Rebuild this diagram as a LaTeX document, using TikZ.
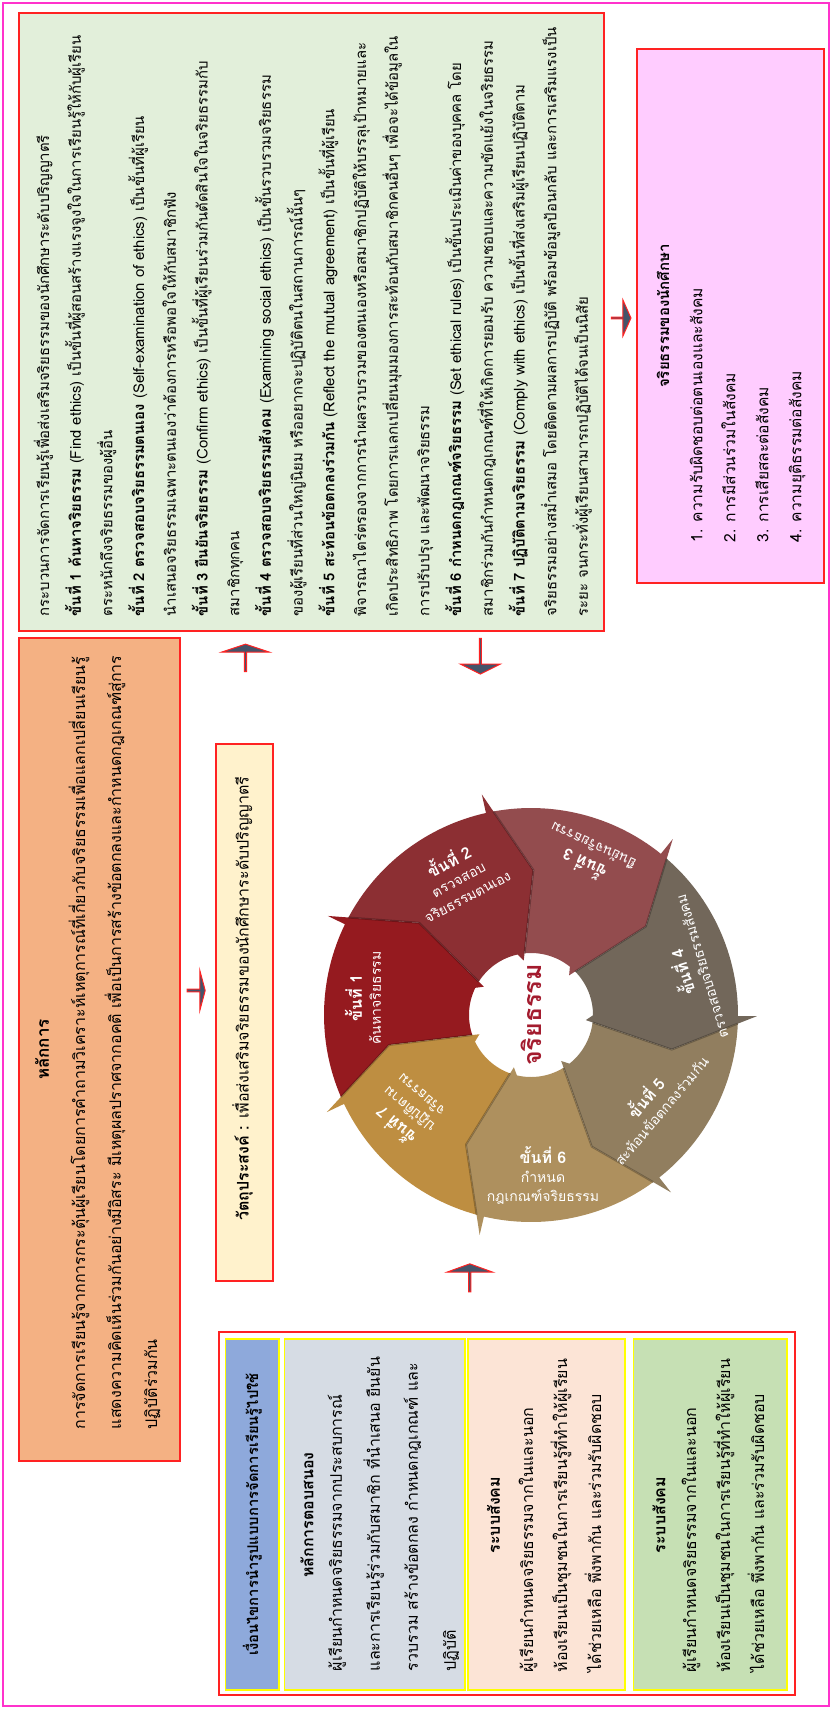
\documentclass[tikz,border=0pt]{standalone}
\usepackage{fontspec}
\setmainfont[Script=Thai]{Loma}
\usetikzlibrary{positioning,calc,shapes.arrows}

\definecolor{framepink}{HTML}{FF33CC}
\definecolor{boxred}{HTML}{FF2222}
\definecolor{colyellow}{HTML}{FFFF00}
\definecolor{greenbg}{HTML}{E2EFDA}
\definecolor{orangebg}{HTML}{F4B183}
\definecolor{pinkbg}{HTML}{FFCCFF}
\definecolor{objbg}{HTML}{FFF2CC}
\definecolor{bluebg}{HTML}{8EA9DB}
\definecolor{graybg}{HTML}{D6DCE4}
\definecolor{peachbg}{HTML}{FCE4D6}
\definecolor{leafbg}{HTML}{C6E0B4}
\definecolor{arrowslate}{HTML}{44546A}
\definecolor{segA}{HTML}{951A1F}
\definecolor{segB}{HTML}{8C2F33}
\definecolor{segC}{HTML}{934C4E}
\definecolor{segD}{HTML}{72675A}
\definecolor{segE}{HTML}{917E5F}
\definecolor{segF}{HTML}{AE905E}
\definecolor{segG}{HTML}{BE8E41}
\definecolor{corered}{HTML}{A31B2E}

\tikzset{every picture/.style={line width=0.75pt}}
\tikzset{
  redbox/.style={draw=boxred, line width=1pt, inner sep=0pt, outer sep=0pt},
  colbox/.style={draw=colyellow, line width=0.75pt, inner sep=0pt, outer sep=0pt},
  vtext/.style={rotate=90, inner sep=0pt, align=left},
  barrow/.style={single arrow, draw=boxred, fill=arrowslate, line width=0.5pt,
    inner sep=0pt, outer sep=0pt},
  steplabel/.style={text=white, align=center, inner sep=0pt,
    font=\fontsize{7}{9.5}\selectfont},
}
\newcommand{\stephead}[1]{{\bfseries\fontsize{8}{10}\selectfont #1}}

\begin{document}
\begin{tikzpicture}[x=0.5pt,y=-0.5pt]
  \useasboundingbox (0,0) rectangle (832,1709);
  %outer frame
  \draw[framepink, line width=1pt] (3,3) rectangle (829,1706);

  %Shape: Rectangle [green]
  \node[redbox, fill=greenbg, minimum width=292.7pt, minimum height=309pt] (green) at (311.3,322) {};
  %Shape: Rectangle [orange]
  \node[redbox, fill=orangebg, minimum width=80.7pt, minimum height=411.5pt] (orange) at (99.3,1049.5) {};
  %Shape: Rectangle [pink]
  \node[redbox, fill=pinkbg, minimum width=93.5pt, minimum height=267pt] (pink) at (730.5,316) {};
  %Shape: Rectangle [objective]
  \node[redbox, fill=objbg, minimum width=28.5pt, minimum height=268.5pt] (obj) at (244.5,1012.5) {};
  %Shape: Rectangle [bottom frame]
  \node[redbox, minimum width=287.8pt, minimum height=181.5pt] (bottom) at (506.8,1513.5) {};
  \node[colbox, fill=bluebg, minimum width=26.75pt, minimum height=175.5pt] (colA) at (252.25,1514.5) {};
  \node[colbox, fill=graybg, minimum width=90.2pt, minimum height=175.5pt] (colB) at (374.8,1514.5) {};
  \node[colbox, fill=peachbg, minimum width=78.5pt, minimum height=175.5pt] (colC) at (546.5,1514.5) {};
  \node[colbox, fill=leafbg, minimum width=76.75pt, minimum height=175.5pt] (colD) at (710.25,1514.5) {};

  % Text Node
  \node[vtext, anchor=north west, font=\fontsize{7.45}{15.85}\selectfont] (greentxt) at (33,617)
    {กระบวนการจัดการเรียนรู้เพื่อส่งเสริมจริยธรรมของนักศึกษาระดับปริญญาตรี\\
     \textbf{ขั้นที่ 1 ค้นหาจริยธรรม} (Find ethics) เป็นขั้นที่ผู้สอนสร้างแรงจูงใจในการเรียนรู้ให้กับผู้เรียน\\
     ตระหนักถึงจริยธรรมของผู้อื่น\\
     \textbf{ขั้นที่ 2 ตรวจสอบจริยธรรมตนเอง} (Self-examination of ethics) เป็นขั้นที่ผู้เรียน\\
     นำเสนอจริยธรรมเฉพาะตนเองว่าต้องการหรือพอใจให้กับสมาชิกฟัง\\
     \textbf{ขั้นที่ 3 ยืนยันจริยธรรม} (Confirm ethics) เป็นขั้นที่ผู้เรียนร่วมกันตัดสินใจในจริยธรรมกับ\\
     สมาชิกทุกคน\\
     \textbf{ขั้นที่ 4 ตรวจสอบจริยธรรมสังคม} (Examining social ethics) เป็นขั้นรวบรวมจริยธรรม\\
     ของผู้เรียนที่ส่วนใหญ่นิยม หรืออยากจะปฏิบัติตนในสถานการณ์นั้นๆ\\
     \textbf{ขั้นที่ 5 สะท้อนข้อตกลงร่วมกัน} (Reflect the mutual agreement) เป็นขั้นที่ผู้เรียน\\
     พิจารณาไตร่ตรองจากการนำผลรวบรวมของตนเองหรือสมาชิกปฏิบัติให้บรรลุเป้าหมายและ\\
     เกิดประสิทธิภาพ โดยการแลกเปลี่ยนมุมมองการสะท้อนกับสมาชิกคนอื่นๆ เพื่อจะได้ข้อมูลใน\\
     การปรับปรุง และพัฒนาจริยธรรม\\
     \textbf{ขั้นที่ 6 กำหนดกฎเกณฑ์จริยธรรม} (Set ethical rules) เป็นขั้นประเมินค่าของบุคคล โดย\\
     สมาชิกร่วมกันกำหนดกฎเกณฑ์ที่ให้เกิดการยอมรับ ความชอบและความขัดแย้งในจริยธรรม\\
     \textbf{ขั้นที่ 7 ปฏิบัติตามจริยธรรม} (Comply with ethics) เป็นขั้นที่ส่งเสริมผู้เรียนปฏิบัติตาม\\
     จริยธรรมอย่างสม่ำเสมอ โดยติดตามผลการปฏิบัติ พร้อมข้อมูลป้อนกลับ และการเสริมแรงเป็น\\
     ระยะ จนกระทั่งผู้เรียนสามารถปฏิบัติได้จนเป็นนิสัย};
  % Text Node
  \node[vtext, font=\bfseries\fontsize{8.5}{10}\selectfont] (orangehead) at (42,1049.5) {หลักการ};
  % Text Node
  \node[vtext, anchor=north west, font=\fontsize{8}{18}\selectfont] (orangetxt) at (68,1430)
    {การจัดการเรียนรู้จากการกระตุ้นผู้เรียนโดยการคำถามวิเคราะห์เหตุการณ์ที่เกี่ยวกับจริยธรรมเพื่อแลกเปลี่ยนเรียนรู้\\
     แสดงความคิดเห็นร่วมกันอย่างมีอิสระ มีเหตุผลปราศจากอคติ เพื่อเป็นการสร้างข้อตกลงและกำหนดกฎเกณฑ์สู่การ\\
     ปฏิบัติร่วมกัน};
  % Text Node
  \node[vtext, font=\bfseries\fontsize{7.5}{10}\selectfont] (pinkhead) at (663,316) {จริยธรรมของนักศึกษา};
  % Text Node
  \node[vtext, anchor=north west, font=\fontsize{7.8}{16.5}\selectfont] (pinktxt) at (689,543)
    {1. ความรับผิดชอบต่อตนเองและสังคม\\
     2. การมีส่วนร่วมในสังคม\\
     3. การเสียสละต่อสังคม\\
     4. ความยุติธรรมต่อสังคม};
  % Text Node
  \node[vtext, align=center, font=\fontsize{8}{12}\selectfont] (objtxt) at ($(obj.center)+(-2,-14)$)
    {\textbf{วัตถุประสงค์ :} เพื่อส่งเสริมจริยธรรมของนักศึกษาระดับปริญญาตรี};

  % Text Node
  \node[vtext, font=\bfseries\fontsize{7.4}{10}\selectfont] (colAtxt) at (colA.center) {เงื่อนไขการนำรูปแบบการจัดการเรียนรู้ไปใช้};
  \node[vtext, font=\bfseries\fontsize{8}{10}\selectfont] (colBhead) at (307,1515) {หลักการตอบสนอง};
  \node[vtext, anchor=north west, font=\fontsize{8}{19}\selectfont] (colBtxt) at (327,1672)
    {ผู้เรียนกำหนดจริยธรรมจากประสบการณ์\\
     และการเรียนรู้ร่วมกับสมาชิก ที่นำเสนอ ยืนยัน\\
     รวบรวม สร้างข้อตกลง กำหนดกฎเกณฑ์ และ\\
     ปฏิบัติ};
  \node[vtext, font=\bfseries\fontsize{8}{10}\selectfont] (colChead) at (493.5,1515) {ระบบสังคม};
  \node[vtext, anchor=north west, font=\fontsize{8}{17}\selectfont] (colCtxt) at (518,1673)
    {ผู้เรียนกำหนดจริยธรรมจากในและนอก\\
     ห้องเรียนเป็นชุมชนในการเรียนรู้ที่ทำให้ผู้เรียน\\
     ได้ช่วยเหลือ พึ่งพากัน และร่วมรับผิดชอบ};
  \node[vtext, font=\bfseries\fontsize{8}{10}\selectfont] (colDhead) at (659,1515) {ระบบสังคม};
  \node[vtext, anchor=north west, font=\fontsize{8}{17}\selectfont] (colDtxt) at (681,1673)
    {ผู้เรียนกำหนดจริยธรรมจากในและนอก\\
     ห้องเรียนเป็นชุมชนในการเรียนรู้ที่ทำให้ผู้เรียน\\
     ได้ช่วยเหลือ พึ่งพากัน และร่วมรับผิดชอบ};

  %Cycle of seven steps
  \coordinate (c) at (531,1015);
  \begin{scope}[shift={(c)}, y=0.5pt]
    \foreach \i/\col in {1/segA,2/segB,3/segC,4/segD,5/segE,6/segF,7/segG}{
      \pgfmathsetmacro\hd{154-51.4286*(\i-1)}
      \pgfmathsetmacro\tl{\hd+51.4286}
      \fill[\col] (\tl-2:207) arc[start angle=\tl-2, end angle=\hd, radius=207]
        -- (\hd:226) -- (\hd-13.5:145) -- (\hd-5:55) -- (\hd:62)
        arc[start angle=\hd, end angle=\tl-6.6, radius=62]
        -- (\tl-13.5:145) -- cycle;
    }
    %shadow along each arrow head
    \foreach \i in {1,...,7}{
      \pgfmathsetmacro\hd{154-51.4286*(\i-1)}
      \draw[black, opacity=0.25, line width=1pt, line join=round]
        (\hd-2.1:207) -- (\hd-13.5:145) -- (\hd-6.6:62);
    }
  \end{scope}
  \node[rotate=90, inner sep=0pt, text=corered, font=\bfseries\fontsize{12.5}{15}\selectfont] (core) at (c) {จริยธรรม};

  % Step labels
  \node[steplabel, rotate=90] (s1) at ($(c)+(-168,-17)$) {\stephead{ขั้นที่ 1}\\ค้นหาจริยธรรม};
  \node[steplabel, rotate=28] (s2) at ($(c)+(-74,-138)$) {\stephead{ขั้นที่ 2}\\ตรวจสอบ\\จริยธรรมตนเอง};
  \node[steplabel, rotate=155] (s3) at ($(c)+(57,-158)$) {\stephead{ขั้นที่ 3}\\ยืนยันจริยธรรม};
  \node[steplabel, rotate=107] (s4) at ($(c)+(159,-45)$) {\stephead{ขั้นที่ 4}\\ตรวจสอบจริยธรรมสังคม};
  \node[steplabel, rotate=50] (s5) at ($(c)+(121,88)$) {\stephead{ขั้นที่ 5}\\สะท้อนข้อตกลงร่วมกัน};
  \node[steplabel] (s6) at ($(c)+(12,160)$) {\stephead{ขั้นที่ 6}\\กำหนด\\กฎเกณฑ์จริยธรรม};
  \node[steplabel, rotate=140] (s7) at ($(c)+(-124,97)$) {\stephead{ขั้นที่ 7}\\ปฏิบัติตาม\\จริยธรรม};

  %Block arrows
  \node[barrow, rotate=90, minimum height=13.7pt, minimum width=23.8pt,
    single arrow head extend=5.5pt, single arrow tip angle=143]
    (arUp) at ($(obj.north |- green.south)+(1,27)$) {};
  \node[barrow, rotate=-90, minimum height=17.8pt, minimum width=20pt,
    single arrow head extend=5pt, single arrow tip angle=127]
    (arDown) at ($(green.south)+(169,25)$) {};
  \node[barrow, minimum height=9.75pt, minimum width=18pt,
    single arrow head extend=4.75pt, single arrow tip angle=132]
    (arPink) at ($(green.east |- pink.west)+(17,2)$) {};
  \node[barrow, minimum height=9pt, minimum width=20pt,
    single arrow head extend=3.25pt, single arrow tip angle=150]
    (arObj) at ($(orange.east |- obj.west)+(16,-22)$) {};
  \node[barrow, rotate=90, minimum height=14pt, minimum width=23pt,
    single arrow head extend=5.2pt, single arrow tip angle=140]
    (arBottom) at ($(bottom.north)+(-37,-54)$) {};
\end{tikzpicture}
\end{document}
